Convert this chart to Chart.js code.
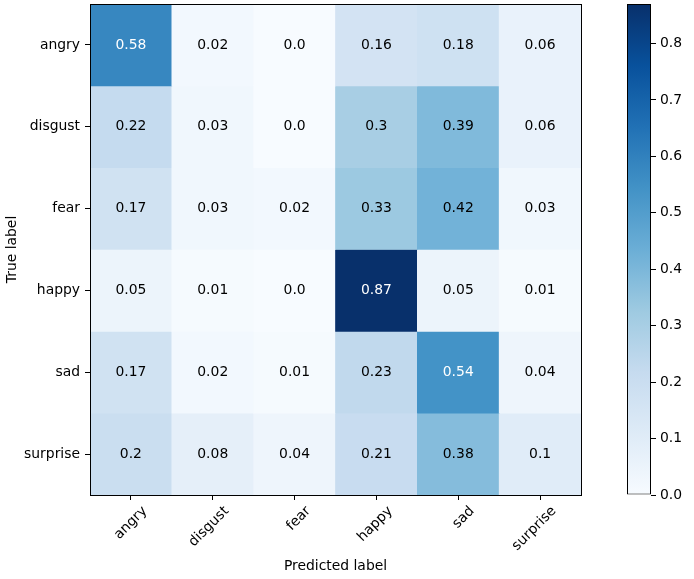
<!DOCTYPE html>
<html>
<head>
<meta charset="utf-8">
<script src="https://cdn.jsdelivr.net/npm/chart.js@4.4.1/dist/chart.umd.min.js"></script>
<style>
  body { margin: 0; background: #fff; }
  #wrap { position: relative; width: 694px; height: 579px; }
  #matrix { position: absolute; left: 0; top: 0; }
  #cbar { position: absolute; left: 600px; top: 0; }
</style>
</head>
<body>
<div id="wrap">
  <canvas id="matrix" width="600" height="579"></canvas>
  <canvas id="cbar" width="94" height="579"></canvas>
</div>
<script>
// clases (eje x = predicho, eje y = real)
const classes = ['angry', 'disgust', 'fear', 'happy', 'sad', 'surprise'];

// filas de la matriz de confusión normalizada
const angryRow    = [0.58, 0.02, 0.0, 0.16, 0.18, 0.06];
const disgustRow  = [0.22, 0.03, 0.0, 0.3, 0.39, 0.06];
const fearRow     = [0.17, 0.03, 0.02, 0.33, 0.42, 0.03];
const happyRow    = [0.05, 0.01, 0.0, 0.87, 0.05, 0.01];
const sadRow      = [0.17, 0.02, 0.01, 0.23, 0.54, 0.04];
const surpriseRow = [0.2, 0.08, 0.04, 0.21, 0.38, 0.1];

const colorbarTicks = [0, 0.1, 0.2, 0.3, 0.4, 0.5, 0.6, 0.7, 0.8];

const rows = [angryRow, disgustRow, fearRow, happyRow, sadRow, surpriseRow];
const vmin = 0;
const vmax = Math.max(...rows.flat());

const FONT = { family: 'DejaVu Sans', size: 13.9 };
Chart.defaults.font.family = FONT.family;
Chart.defaults.font.size = FONT.size;
Chart.defaults.color = '#000';

// paleta Blues de matplotlib
const BLUES = [
    [247, 251, 255], [222, 235, 247], [198, 219, 239], [158, 202, 225], [107, 174, 214],
    [66, 146, 198], [33, 113, 181], [8, 81, 156], [8, 48, 107]
];
function blues(t) {
    t = Math.min(1, Math.max(0, t));
    const p = t * (BLUES.length - 1);
    const i = Math.min(BLUES.length - 2, Math.floor(p));
    const f = p - i;
    const c = BLUES[i].map((v, k) => Math.round(v + (BLUES[i + 1][k] - v) * f));
    return `rgb(${c[0]}, ${c[1]}, ${c[2]})`;
}
const fmt = v => Number.isInteger(v) ? v.toFixed(1) : String(v);

// sin relleno extra alrededor del área del gráfico
const noPad = s => { s.paddingTop = 0; s.paddingBottom = 0; s.paddingLeft = 0; s.paddingRight = 0; };

// texto en cada celda
const cellText = {
    id: 'cellText',
    afterDatasetsDraw(chart) {
        const { ctx, scales: { x, y } } = chart;
        ctx.save();
        ctx.font = `${FONT.size}px "${FONT.family}"`;
        ctx.textAlign = 'center';
        ctx.textBaseline = 'middle';
        rows.forEach((row, i) => {
            row.forEach((v, j) => {
                ctx.fillStyle = v > (vmax + vmin) / 2 ? '#fff' : '#000';
                ctx.fillText(fmt(v), x.getPixelForValue(j), y.getPixelForValue(i + 0.5));
            });
        });
        ctx.restore();
    }
};

new Chart(document.getElementById('matrix'), {
    type: 'bar',
    data: {
        labels: classes,
        datasets: rows.map((row, i) => ({
            label: classes[i],
            data: row.map(() => [i, i + 1]),
            backgroundColor: row.map(v => blues((v - vmin) / (vmax - vmin))),
            borderWidth: 0,
            grouped: false,
            barPercentage: 1,
            categoryPercentage: 1
        }))
    },
    options: {
        responsive: false,
        animation: false,
        layout: { padding: { left: 0, top: 4, right: 19, bottom: 0 } },
        plugins: { legend: { display: false }, tooltip: { enabled: false } },
        scales: {
            x: {
                type: 'category',
                offset: true,
                grid: { offset: false, drawOnChartArea: false, tickLength: 5, color: '#000' },
                border: { color: '#000', width: 1, z: 1 },
                ticks: { autoSkip: false, minRotation: 45, maxRotation: 45, labelOffset: 14, padding: 3 },
                title: { display: true, text: 'Predicted label', padding: { top: 4, bottom: 4 } },
                afterFit: s => { s.height = 84; noPad(s); }
            },
            y: {
                type: 'linear',
                min: 0,
                max: rows.length,
                reverse: true,
                afterBuildTicks: s => { s.ticks = classes.map((c, i) => ({ value: i + 0.5 })); },
                ticks: { callback: v => classes[Math.floor(v)], padding: 5 },
                grid: { drawOnChartArea: false, tickLength: 5, color: '#000' },
                border: { color: '#000', width: 1, z: 1 },
                title: { display: true, text: 'True label', padding: { top: 4, bottom: 4 } },
                afterFit: s => { s.width = 90; noPad(s); }
            },
            xTop: {
                type: 'linear', position: 'top', min: 0, max: 1,
                ticks: { display: false }, grid: { display: false },
                border: { color: '#000', width: 1, z: 1 },
                afterFit: s => { s.height = 0; noPad(s); }
            },
            yRight: {
                type: 'linear', position: 'right', min: 0, max: 1,
                ticks: { display: false }, grid: { display: false },
                border: { color: '#000', width: 1, z: 1 },
                afterFit: s => { s.width = 0; noPad(s); }
            }
        }
    },
    plugins: [cellText]
});

// barra de color
new Chart(document.getElementById('cbar'), {
    type: 'bar',
    data: {
        labels: [''],
        datasets: [{
            data: [[vmin, vmax]],
            backgroundColor: ctx => {
                const area = ctx.chart.chartArea;
                if (!area) return null;
                const g = ctx.chart.ctx.createLinearGradient(0, area.bottom, 0, area.top);
                BLUES.forEach((c, k) => g.addColorStop(k / (BLUES.length - 1), `rgb(${c[0]}, ${c[1]}, ${c[2]})`));
                return g;
            },
            borderColor: '#000',
            borderWidth: 1,
            borderSkipped: false,
            inflateAmount: 0,
            barPercentage: 1,
            categoryPercentage: 1
        }]
    },
    options: {
        responsive: false,
        animation: false,
        layout: { padding: { left: 27, top: 4, right: 0, bottom: 84 } },
        plugins: { legend: { display: false }, tooltip: { enabled: false } },
        scales: {
            x: { display: false },
            y: {
                position: 'right',
                min: vmin,
                max: vmax,
                afterBuildTicks: s => { s.ticks = colorbarTicks.map(v => ({ value: v })); },
                ticks: { callback: v => v.toFixed(1), padding: 4 },
                grid: { drawOnChartArea: false, tickLength: 5, color: '#000' },
                border: { display: false },
                afterFit: s => { s.width = 43; noPad(s); }
            }
        }
    }
});
</script>
</body>
</html>
